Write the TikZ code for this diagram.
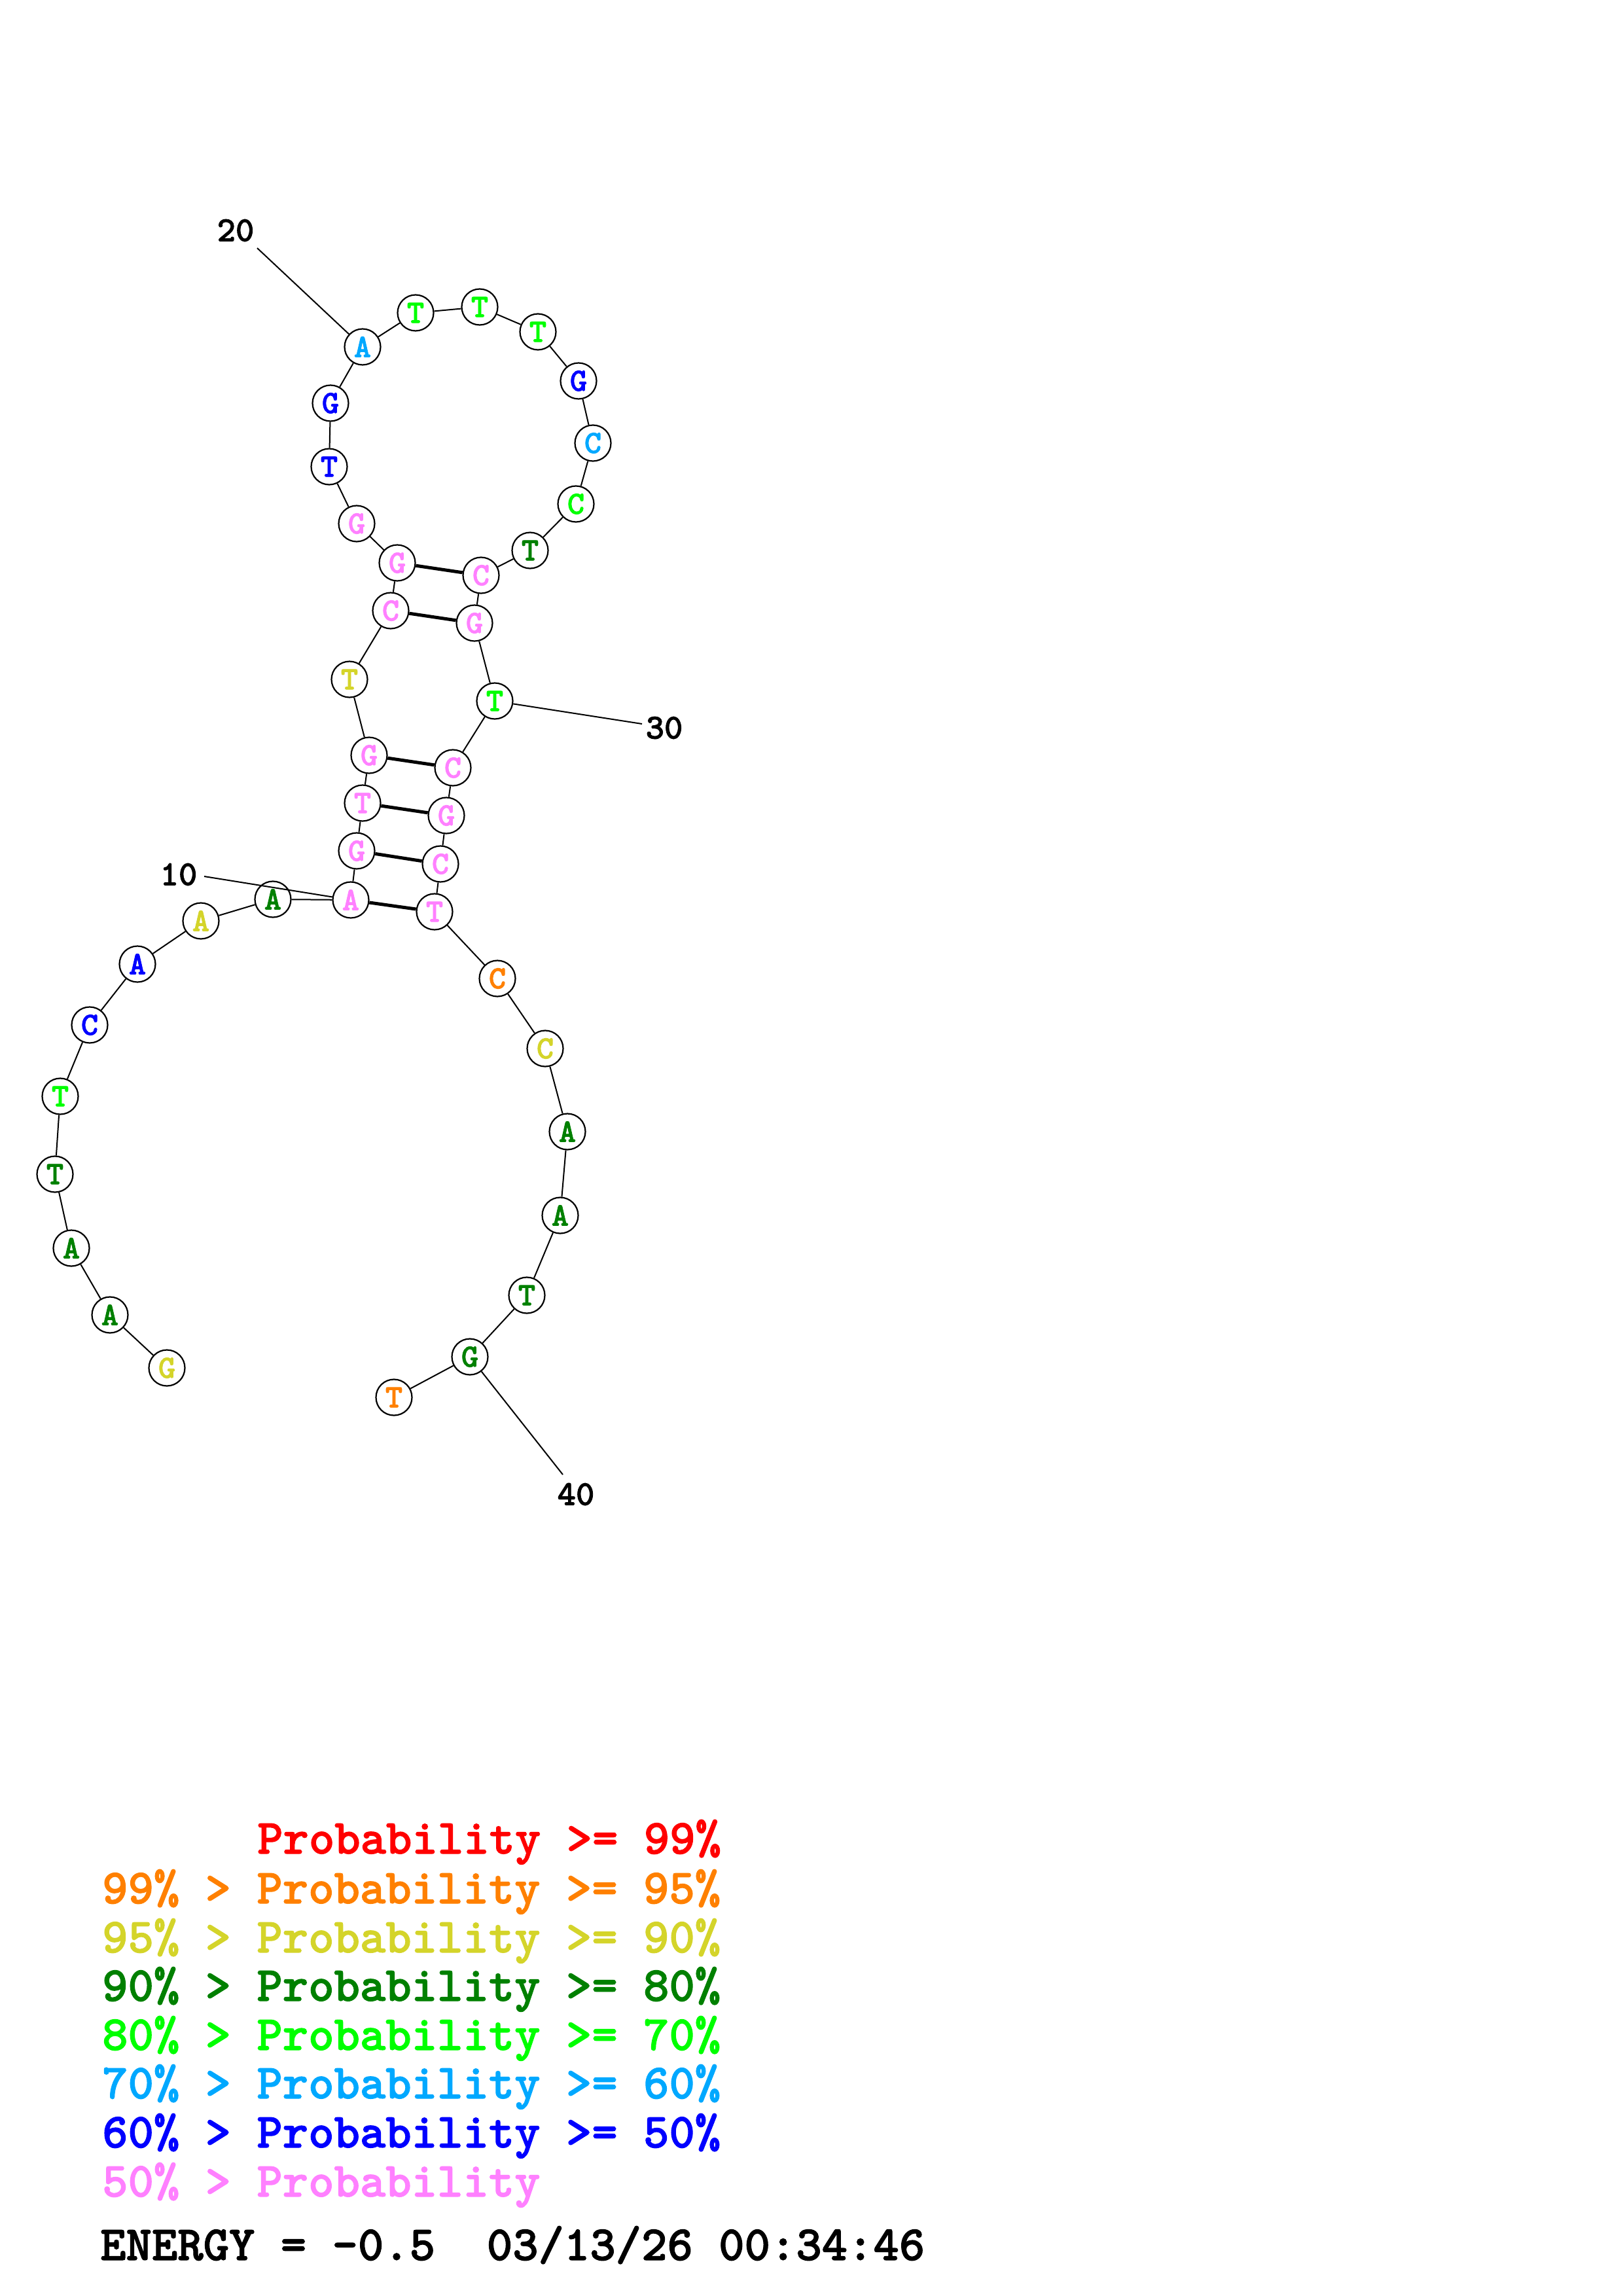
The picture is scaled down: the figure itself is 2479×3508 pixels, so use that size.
\documentclass[tikz,border=0pt]{standalone}
\usepackage{fontspec}
\usepackage{xcolor}
\usepackage{tikz}

% heavy typewriter face for bases, numbers and legend
\newfontfamily\ntfont{lmmonolt10-bold}[Extension=.otf,FakeBold=1.5]

% probability colours
\definecolor{pr99}{RGB}{255,0,0}
\definecolor{pr95}{RGB}{255,128,0}
\definecolor{pr90}{RGB}{212,212,42}
\definecolor{pr80}{RGB}{0,128,0}
\definecolor{pr70}{RGB}{0,255,0}
\definecolor{pr60}{RGB}{0,168,255}
\definecolor{pr50}{RGB}{0,0,255}
\definecolor{prlow}{RGB}{255,128,255}

\begin{document}
\begin{tikzpicture}[x=1pt,y=-1pt,
    base/.style={circle,draw,fill=white,line width=2.2pt,minimum size=55pt,inner sep=0pt,
      font=\ntfont\fontsize{50}{50}\selectfont},
    backbone/.style={line width=2pt},
    pairbond/.style={line width=5pt},
    numlabel/.style={inner sep=0pt,font=\ntfont\fontsize{54}{54}\selectfont},
    legend/.style={anchor=base west,inner sep=0pt,font=\ntfont\fontsize{75}{75}\selectfont}]
  \useasboundingbox (0,0) rectangle (2479,3508);

  % 5' tail
  \node[base,text=pr90] (n1) at (255,2090) {G};
  \node[base,text=pr80] (n2) at (168,2009) {A};
  \node[base,text=pr80] (n3) at (109,1907) {A};
  \node[base,text=pr80] (n4) at (84,1794) {T};
  \node[base,text=pr70] (n5) at (92,1675) {T};
  \node[base,text=pr50] (n6) at (137,1566) {C};
  \node[base,text=pr50] (n7) at (210,1473) {A};
  \node[base,text=pr90] (n8) at (307,1407) {A};
  \node[base,text=pr80] (n9) at (417,1374) {A};

  % left strand of the stem
  \node[base,text=prlow] (n10) at (536,1375) {A};
  \node[base,text=prlow] (n11) at (545,1300) {G};
  \node[base,text=prlow] (n12) at (554,1227) {T};
  \node[base,text=prlow] (n13) at (564,1154) {G};
  \node[base,text=pr90] (n14) at (534,1038) {T};
  \node[base,text=prlow] (n15) at (597,933) {C};
  \node[base,text=prlow] (n16) at (607,860) {G};

  % hairpin loop
  \node[base,text=prlow] (n17) at (545,800) {G};
  \node[base,text=pr50] (n18) at (503,713) {T};
  \node[base,text=pr50] (n19) at (505,616) {G};
  \node[base,text=pr60] (n20) at (554,530) {A};
  \node[base,text=pr70] (n21) at (635,478) {T};
  \node[base,text=pr70] (n22) at (733,469) {T};
  \node[base,text=pr70] (n23) at (822,507) {T};
  \node[base,text=pr50] (n24) at (884,582) {G};
  \node[base,text=pr60] (n25) at (906,677) {C};
  \node[base,text=pr70] (n26) at (880,770) {C};
  \node[base,text=pr80] (n27) at (810,841) {T};

  % right strand of the stem
  \node[base,text=prlow] (n28) at (735,879) {C};
  \node[base,text=prlow] (n29) at (725,952) {G};
  \node[base,text=pr70] (n30) at (756,1071) {T};
  \node[base,text=prlow] (n31) at (692,1173) {C};
  \node[base,text=prlow] (n32) at (682,1246) {G};
  \node[base,text=prlow] (n33) at (673,1320) {C};
  \node[base,text=prlow] (n34) at (664,1393) {T};

  % 3' tail
  \node[base,text=pr95] (n35) at (760,1495) {C};
  \node[base,text=pr90] (n36) at (833,1602) {C};
  \node[base,text=pr80] (n37) at (867,1729) {A};
  \node[base,text=pr80] (n38) at (856,1857) {A};
  \node[base,text=pr80] (n39) at (805,1979) {T};
  \node[base,text=pr80] (n40) at (718,2073) {G};
  \node[base,text=pr95] (n41) at (602,2135) {T};

  % backbone
  \foreach \i in {1,...,40}{
    \pgfmathtruncatemacro{\j}{\i+1}
    \draw[backbone] (n\i) -- (n\j);
  }

  % base pairs
  \foreach \a/\b in {10/34,11/33,12/32,13/31,15/29,16/28}
    \draw[pairbond] (n\a) -- (n\b);

  % position numbers
  \node[numlabel] (lab10) at (273,1336) {10};
  \coordinate (tick10) at (312,1339);
  \draw[backbone] (tick10) -- (n10);
  \node[numlabel] (lab20) at (360,352) {20};
  \coordinate (tick20) at (393,379);
  \draw[backbone] (tick20) -- (n20);
  \node[numlabel] (lab30) at (1015,1112) {30};
  \coordinate (tick30) at (981,1106);
  \draw[backbone] (n30) -- (tick30);
  \node[numlabel] (lab40) at (880,2283) {40};
  \coordinate (tick40) at (860,2253);
  \draw[backbone] (n40) -- (tick40);

  % legend
  \node[legend,text=pr99] (leg99) at (393,2832) {Probability >= 99\%};
  \node[legend,text=pr95] (leg95) at (156,2908) {99\% > Probability >= 95\%};
  \node[legend,text=pr90] (leg90) at (156,2983) {95\% > Probability >= 90\%};
  \node[legend,text=pr80] (leg80) at (156,3057) {90\% > Probability >= 80\%};
  \node[legend,text=pr70] (leg70) at (156,3132) {80\% > Probability >= 70\%};
  \node[legend,text=pr60] (leg60) at (156,3206) {70\% > Probability >= 60\%};
  \node[legend,text=pr50] (leg50) at (156,3281) {60\% > Probability >= 50\%};
  \node[legend,text=prlow] (leglow) at (156,3356) {50\% > Probability};
  \node[legend] (energy) at (153,3453) {ENERGY = -0.5\ \ 03/13/26 00:34:46};
\end{tikzpicture}
\end{document}
